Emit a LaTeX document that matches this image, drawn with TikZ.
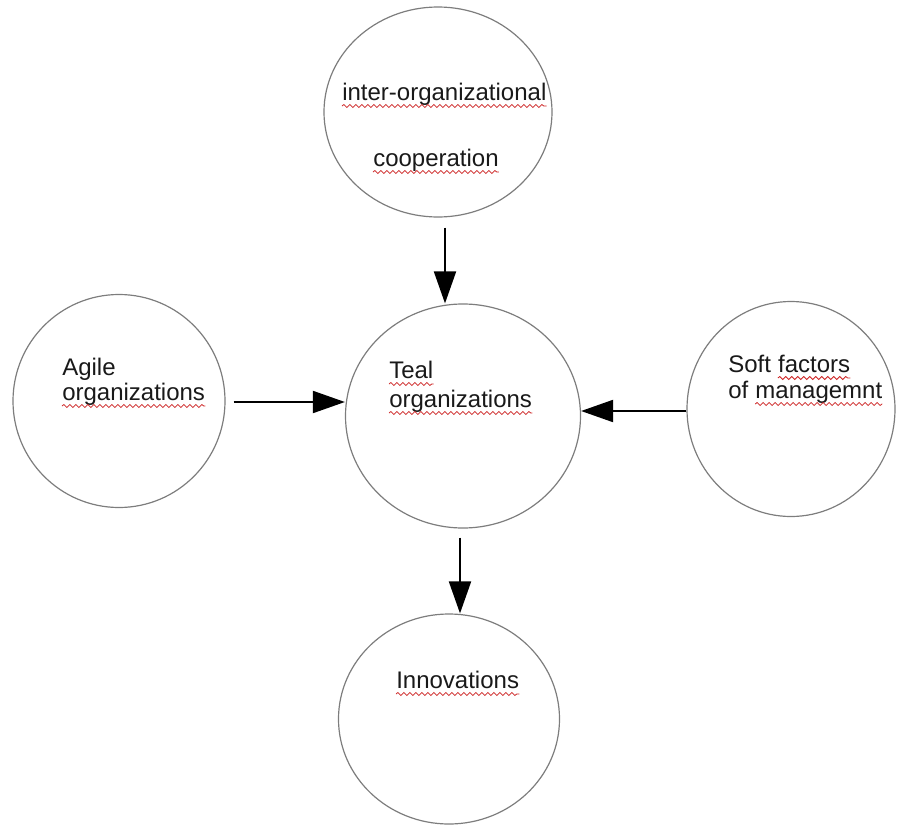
\documentclass[tikz,border=0pt]{standalone}
\usepackage{fontspec}
\setmainfont{Liberation Sans}
\usepackage{tikz}
\usetikzlibrary{arrows.meta,shapes.geometric,decorations.pathmorphing}
\definecolor{spellred}{RGB}{205,35,35}
\definecolor{rimgray}{RGB}{125,125,125}
\tikzset{
	>=Latex,
	bubble/.style={
		ellipse,
		draw=rimgray,
		line width=0.9pt,
		inner sep=0pt
	},
	wordtext/.style={
		anchor=base west,
		inner sep=0pt,
		text=black!90,
		font=\fontsize{18}{21}\selectfont
	},
	spellwave/.style={
		draw=spellred,
		line width=0.6pt,
		decorate,
		decoration={snake,segment length=4.5pt,amplitude=1.1pt}
	},
	conn/.style={
		-{Triangle[length=24pt,width=16.5pt]},
		line width=1.5pt,
		draw=black
	}
}
\begin{document}
\begin{tikzpicture}[x=0.75pt,y=-0.75pt]
	\useasboundingbox (0,0) rectangle (897,825);
	
	% Bubbles
	\node[bubble,minimum width=171pt,minimum height=157.5pt] (inter) at (438,112) {};
	\node[bubble,minimum width=159pt,minimum height=159.75pt] (agile) at (119,401) {};
	\node[bubble,minimum width=176.25pt,minimum height=168pt] (teal) at (463,416) {};
	\node[bubble,minimum width=156pt,minimum height=161.25pt] (soft) at (791,409) {};
	\node[bubble,minimum width=165.75pt,minimum height=157.5pt] (innov) at (449,719) {};
	
	% Texts
	\node[wordtext] (txtinter) at (342,100) {inter-organizational};
	\node[wordtext] (txtcoop) at (373,166) {cooperation};
	\node[wordtext] (txtagileA) at (62,375) {Agile};
	\node[wordtext] (txtagileB) at (62,400) {organizations};
	\node[wordtext] (txttealA) at (389,378) {Teal};
	\node[wordtext] (txttealB) at (389,407) {organizations};
	\node[wordtext] (txtsoftA) at (728,372) {Soft};
	\node[wordtext] (txtfactors) at ([xshift=5pt]txtsoftA.base east) {factors};
	\node[wordtext] (txtsoftB) at (728,398) {of};
	\node[wordtext] (txtmanag) at ([xshift=5pt]txtsoftB.base east) {managemnt};
	\node[wordtext] (txtinnov) at (396,688) {Innovations};
	
	% Spelling marks
	\foreach \w in {txtinter,txtcoop,txtagileB,txttealA,txttealB,txtfactors,txtmanag,txtinnov}
		\draw[spellwave] ([yshift=-4.5pt]\w.base west) -- ([yshift=-4.5pt]\w.base east);
	
	% Connections
	\draw[conn,shorten <=7.5pt] ([xshift=5.25pt]inter.south) -- ([xshift=-13.5pt]teal.north);
	\draw[conn,shorten <=6pt] ([yshift=-0.75pt]agile.east) -- ([yshift=10.5pt]teal.west);
	\draw[conn] ([yshift=-1.5pt]soft.west) -- ([yshift=3.75pt]teal.east);
	\draw[conn,shorten <=6.75pt] ([xshift=-2.25pt]teal.south) -- ([xshift=8.25pt]innov.north);
	
\end{tikzpicture}
\end{document}
